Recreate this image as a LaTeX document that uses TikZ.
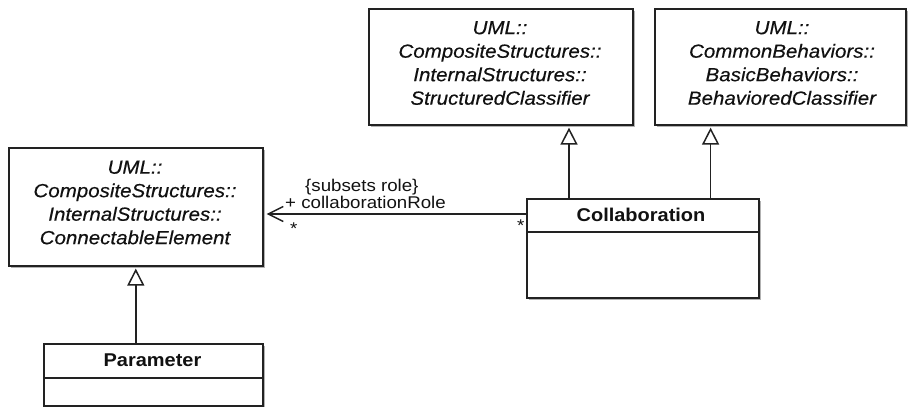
\documentclass[tikz,border=0pt]{standalone}
\usepackage{fontspec}
\setmainfont{Liberation Sans}
\newfontfamily\umlfont[FakeStretch=1.08]{Liberation Sans}
\newfontfamily\umlifont[FakeStretch=1.08,FakeBold=0.35]{Liberation Sans Italic}
\newfontfamily\lblfont[FakeStretch=1.1]{Liberation Sans}
\usetikzlibrary{arrows.meta,shadows}
\definecolor{ln}{HTML}{222222}
\definecolor{txt}{HTML}{111111}
\begin{document}
\begin{tikzpicture}[x=1pt,y=-1pt,
  cls/.style={draw=ln, line width=1.6pt, fill=white, rectangle, inner sep=0pt, anchor=north west,
    drop shadow={shadow xshift=2.5pt, shadow yshift=-2.5pt, fill=black!30, opacity=1}},
  abs/.style={font=\umlifont\fontsize{19}{23.5}\selectfont, text=txt, align=center, inner sep=0pt},
  cname/.style={font=\umlfont\bfseries\fontsize{18.5}{22}\selectfont, text=txt, inner sep=0pt},
  sep/.style={draw=ln, line width=1.6pt},
  gen/.style={draw=ln, line width=1.5pt, shorten >=2pt, -{Triangle[fill=white, length=17pt, width=17pt, line width=1.5pt]}},
  assoc/.style={draw=ln, line width=1.5pt, shorten >=3pt, -{Straight Barb[length=15pt, width=15pt, line width=1.5pt]}},
  lbl/.style={font=\lblfont\fontsize{17}{17}\selectfont, text=txt, inner sep=0pt, anchor=west},
]
\useasboundingbox (0,0) rectangle (908,407);

% classes
\node[cls, minimum width=264pt, minimum height=116pt] (sc) at (368,8) {};
\node[abs] (sct) at (500,63) {UML::\\CompositeStructures::\\InternalStructures::\\StructuredClassifier};

\node[cls, minimum width=251pt, minimum height=116pt] (bc) at (654,8) {};
\node[abs] (bct) at (782,63) {UML::\\CommonBehaviors::\\BasicBehaviors::\\BehavioredClassifier};

\node[cls, minimum width=254pt, minimum height=118pt] (ce) at (8,147) {};
\node[abs] (cet) at (135,202.5) {UML::\\CompositeStructures::\\InternalStructures::\\ConnectableElement};

\node[cls, minimum width=232pt, minimum height=99pt] (co) at (526,198) {};
\draw[sep] ([yshift=-34pt]co.north west) -- ([yshift=-34pt]co.north east);
\node[cname] (cot) at (641,215) {Collaboration};

\node[cls, minimum width=219pt, minimum height=62pt] (pa) at (43,343) {};
\draw[sep] ([yshift=-35pt]pa.north west) -- ([yshift=-35pt]pa.north east);
\node[cname] (pat) at (152.5,360) {Parameter};

% generalizations
\draw[gen] (ce.south |- pa.north) -- (ce.south);
\coordinate (g1) at ([xshift=43pt]co.north west);
\draw[gen] (g1) -- (g1 |- sc.south);
\coordinate (g2) at ([xshift=-49pt]co.north east);
\draw[gen] (g2) -- (g2 |- bc.south);

% association
\coordinate (a1) at ([yshift=-16pt]co.north west);
\draw[assoc] (a1) -- (a1 -| ce.east);
\node[lbl] (l1) at (305,187) {\{subsets role\}};
\node[lbl] (l2) at (285,202) {+ collaborationRole};
\node[lbl] (m1) at (290,229) {*};
\node[lbl] (m2) at (517,226) {*};
\end{tikzpicture}
\end{document}
